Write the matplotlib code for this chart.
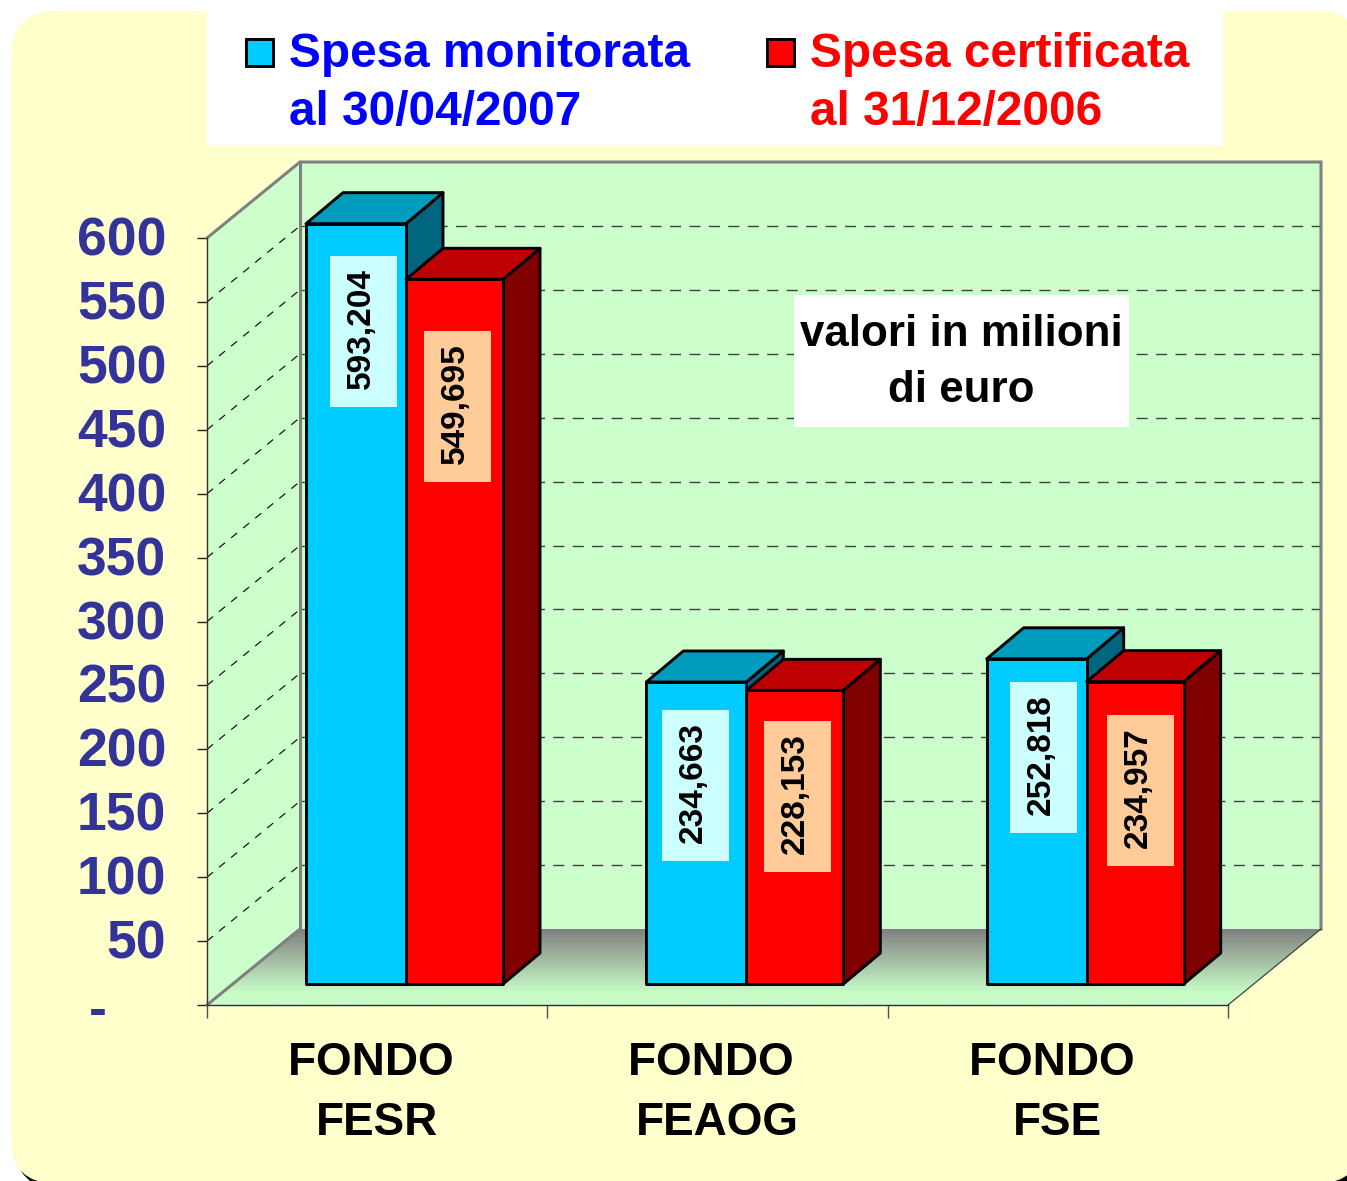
import numpy as np
import matplotlib
matplotlib.use("Agg")
import matplotlib.pyplot as plt
from matplotlib.colors import LinearSegmentedColormap
from matplotlib.patches import FancyBboxPatch, Polygon, Rectangle
from matplotlib.transforms import Affine2D, IdentityTransform

plt.rcParams['font.family'] = ['Liberation Sans', 'DejaVu Sans']
plt.rcParams['font.weight'] = 'bold'

categories = ["FONDO \nFESR", "FONDO \nFEAOG", "FONDO \nFSE"]
monitorata = [593.204, 234.663, 252.818]
certificata = [549.695, 228.153, 234.957]
monitorata_labels = ["593,204", "234,663", "252,818"]
certificata_labels = ["549,695", "228,153", "234,957"]
ticks = [0, 50, 100, 150, 200, 250, 300, 350, 400, 450, 500, 550, 600]
tick_labels = ["-    ", "50", "100", "150", "200", "250", "300", "350", "400",
               "450", "500", "550", "600"]
grid_values = [50, 100, 150, 200, 250, 300, 350, 400, 450, 500, 550]

W, H = 1347, 1181
PX_X = 1021 / 3      # pixels per category
PX_Y = 767 / 600     # pixels per million

# depth of the fake 3d box, in data units
DX = 93 / PX_X
DY = 76 / PX_Y
# bars stand a bit inside the floor
BAR_BASE = 16.4
BAR_LIFT = 18
BAR_DX = 37 / PX_X
BAR_DY = 31 / PX_Y
BLUE_W = 100 / PX_X
RED_W = 97 / PX_X
BAR_START = 99 / PX_X

# label box offsets from bar top, pixels
blue_off = [(7.5, -108), (-1, -103), (7, -99)]
red_off = [(2.5, -127), (2.5, -106), (5, -109)]
BOX_W, BOX_H = 67, 151

fig = plt.figure(figsize=(W / 100, H / 100), dpi=100, facecolor='white')

bg = fig.add_axes([0, 0, 1, 1], zorder=0)
bg.set_xlim(0, W)
bg.set_ylim(H, 0)
bg.axis('off')
bg.add_patch(FancyBboxPatch((15, 60), 1400, 1129, boxstyle="round,pad=0,rounding_size=45",
                            fc='black', ec='none'))
bg.add_patch(FancyBboxPatch((11, 11), 1351, 1172.5, boxstyle="round,pad=0,rounding_size=45",
                            fc='#FFFFCC', ec='none'))
bg.add_patch(Rectangle((207, 11), 1016, 135, fc='white', ec='none'))

ax = fig.add_axes([207 / W, (H - 1005) / H, 1021 / W, 767 / H], zorder=1)
ax.patch.set_alpha(0)

# walls
ax.add_patch(Polygon([(0, 0), (DX, DY), (DX, 600 + DY), (0, 600)], fc='#CCFFCC', ec='none',
                     clip_on=False))
ax.add_patch(Rectangle((DX, DY), 3, 600, fc='#CCFFCC', ec='none', clip_on=False))

# floor with the grey shadow
floor = Polygon([(0, 0), (3, 0), (3 + DX, DY), (DX, DY)], fc='none', ec='none', clip_on=False)
ax.add_patch(floor)
cmap = LinearSegmentedColormap.from_list('floor', [(0, '#C8FDC8'), (0.16, '#C8FDC8'), (1, '#808080')])
grad = np.linspace(1, 0, 256).reshape(-1, 1)
im = ax.imshow(grad, extent=[0, 3 + DX, 0, DY], aspect='auto', cmap=cmap, zorder=1)
im.set_clip_box(fig.bbox)
im.set_clip_path(floor)

for v in grid_values:
    ax.plot([0, DX], [v, v + DY], color='black', lw=0.8, dashes=(7, 7), zorder=2, clip_on=False)
    ax.plot([DX, 3 + DX], [v + DY, v + DY], color='#404040', lw=1.0, dashes=(8, 6), zorder=2,
            clip_on=False)

# wall edges
ax.plot([0, DX, 3 + DX, 3 + DX], [600, 600 + DY, 600 + DY, DY], color='#808080', lw=2.2,
        zorder=3, clip_on=False, solid_joinstyle='miter')
ax.plot([DX, DX], [DY, 600 + DY], color='#808080', lw=2.2, zorder=3, clip_on=False)
ax.plot([0, DX], [0, DY], color='#808080', lw=2.2, zorder=3, clip_on=False)
ax.plot([3, 3 + DX], [0, DY], color='#404040', lw=0.9, zorder=3, clip_on=False)


def draw_bar(x, w, v, front, top, side, z):
    y0, y1 = BAR_BASE, v + BAR_LIFT
    style = dict(ec='black', lw=2.1, joinstyle='round', zorder=z, clip_on=False)
    ax.add_patch(Polygon([(x + w, y0), (x + w + BAR_DX, y0 + BAR_DY), (x + w + BAR_DX, y1 + BAR_DY),
                          (x + w, y1)], fc=side, **style))
    ax.add_patch(Polygon([(x, y1), (x + w, y1), (x + w + BAR_DX, y1 + BAR_DY),
                          (x + BAR_DX, y1 + BAR_DY)], fc=top, **style))
    ax.add_patch(Rectangle((x, y0), w, y1 - y0, fc=front, **style))


ax.set_xlim(0, 3)
ax.set_ylim(0, 600)


def value_label(x, v, text, off, box_color):
    px, py = ax.transData.transform((x, v))
    px += off[0]
    py += off[1]
    ax.add_patch(Rectangle((px - BOX_W / 2, py - BOX_H / 2), BOX_W, BOX_H, fc=box_color, ec='none',
                           transform=IdentityTransform(), zorder=6, clip_on=False))
    ax.annotate(text, xy=(px - 2, py + 3), xycoords='figure pixels', rotation=90, fontsize=24,
                ha='center', va='center', color='black', zorder=7, annotation_clip=False)


for i in range(3):
    x_blue = i + BAR_START
    x_red = x_blue + BLUE_W
    draw_bar(x_blue, BLUE_W, monitorata[i], '#00CCFF', '#009CBD', '#006680', 4)
    draw_bar(x_red, RED_W, certificata[i], '#FF0000', '#BF0000', '#800000', 5)
    value_label(x_blue + BLUE_W / 2, monitorata[i] + BAR_LIFT, monitorata_labels[i], blue_off[i], '#CCFFFF')
    value_label(x_red + RED_W / 2, certificata[i] + BAR_LIFT, certificata_labels[i], red_off[i], '#FFCC99')

for name in ['top', 'right']:
    ax.spines[name].set_visible(False)
for name in ['left', 'bottom']:
    ax.spines[name].set_color('#303030')
    ax.spines[name].set_linewidth(1.0)
    ax.spines[name].set_zorder(3)

ax.set_yticks(ticks, tick_labels)
ax.tick_params(axis='y', length=7.2, width=1.0, color='#202020', pad=22, labelsize=38.5,
               labelcolor='#333399')
ax.set_xticks([0, 1, 2, 3], ['', '', '', ''])
ax.tick_params(axis='x', which='major', length=9.5, width=1.0, color='#505050')
ax.set_xticks([0.5, 1.5, 2.5], categories, minor=True)
ax.tick_params(axis='x', which='minor', length=0, pad=26, labelsize=33, labelcolor='black')
for lab in ax.get_xticklabels(minor=True):
    lab.set_linespacing(1.47)

# nudge the value labels a little, the dash sits lower than its tick
for i, tick in enumerate(ax.yaxis.get_major_ticks()):
    shift = -2 if i == 0 else 2
    tick.label1.set_transform(tick.label1.get_transform() + Affine2D().translate(0, shift))

# texts and keys on top, in pixels
fg = fig.add_axes([0, 0, 1, 1], zorder=2)
fg.set_xlim(0, W)
fg.set_ylim(H, 0)
fg.axis('off')
fg.patch.set_alpha(0)

fg.add_patch(Rectangle((794, 295), 335, 132, fc='white', ec='none'))
fg.text(961.5, 335, "valori in milioni", fontsize=31.6, ha='center', va='center', color='black')
fg.text(961.5, 391, "di euro", fontsize=31.6, ha='center', va='center', color='black')

fg.add_patch(Rectangle((246, 38.5), 27, 27, fc='#00CCFF', ec='black', lw=2.1))
fg.add_patch(Rectangle((767, 38.5), 27, 27, fc='#FF0000', ec='black', lw=2.1))
fg.text(289, 67, "Spesa monitorata", fontsize=34.4, color='#0000FF', va='baseline')
fg.text(289, 125, "al 30/04/2007", fontsize=34.4, color='#0000FF', va='baseline')
fg.text(810, 67, "Spesa certificata", fontsize=34.4, color='#FF0000', va='baseline')
fg.text(810, 125, "al 31/12/2006", fontsize=34.4, color='#FF0000', va='baseline')

fig.savefig("out.png", dpi=100)
